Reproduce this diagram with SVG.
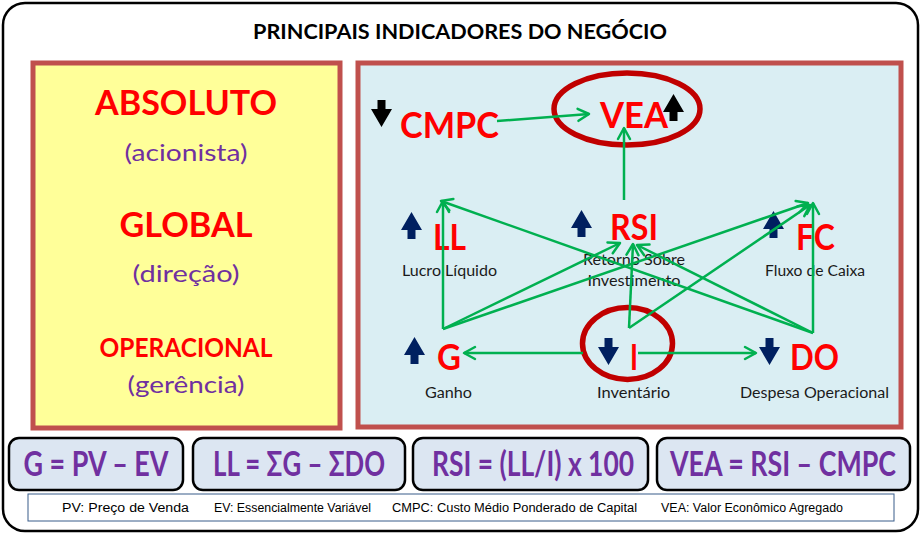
<svg xmlns="http://www.w3.org/2000/svg" xmlns:xlink="http://www.w3.org/1999/xlink" width="921" height="535" viewBox="0 0 921 535">
<style>
.ttl{font-family:Lato,"Open Sans","Liberation Sans",sans-serif;font-weight:bold;font-size:21px;fill:#000}
.big{font-family:Lato,"Open Sans","Liberation Sans",sans-serif;font-weight:bold;fill:#FF0000}
.sub{font-family:Lato,"Open Sans","Liberation Sans",sans-serif;font-size:23px;fill:#7030A0}
.node{font-family:Lato,"Open Sans","Liberation Sans",sans-serif;font-weight:bold;font-size:37px;fill:#FF0000}
.lbl{font-family:Lato,"Open Sans","Liberation Sans",sans-serif;font-size:14.5px;fill:#1a1a1a}
.frm{font-family:Lato,"Open Sans","Liberation Sans",sans-serif;font-weight:bold;font-size:28px;fill:#7030A0}
.ft{font-family:"Liberation Sans",Arial,sans-serif;font-size:12.5px;fill:#000}
.fbox{fill:#DCE6F2;stroke:#000;stroke-width:2.5}
.panel{stroke:#C0504D;stroke-width:5}
.ring{fill:none;stroke:#C00000;stroke-width:5.5}
.con{stroke:#00B050;stroke-width:2.5;fill:none}
.navy{fill:#002060}
.blk{fill:#000}
</style>
<defs>
<path id="up" d="M10.5,0 L21,18 L14.5,18 L14.5,27 L6.5,27 L6.5,18 L0,18 Z"/>
<marker id="ah" markerUnits="userSpaceOnUse" markerWidth="16" markerHeight="16" viewBox="0 0 16 16" refX="13" refY="8" orient="auto">
<path d="M2,2 L13,8 L2,14" fill="none" stroke="#00B050" stroke-width="2.5" stroke-linecap="round" stroke-linejoin="round"/>
</marker>
</defs>

<rect id="frame" x="3" y="3" width="915" height="528" rx="22" fill="#fff" stroke="#000" stroke-width="2.5"/>

<g id="title"><text class="ttl" x="460" y="39" text-anchor="middle" textLength="414" lengthAdjust="spacingAndGlyphs">PRINCIPAIS INDICADORES DO NEGÓCIO</text></g>

<g id="left-panel">
<rect class="panel" x="33" y="63" width="307" height="365" fill="#FFFF99"/>
<text class="big" x="186" y="115" font-size="35" text-anchor="middle" textLength="182" lengthAdjust="spacingAndGlyphs">ABSOLUTO</text>
<text class="sub" x="186" y="161" text-anchor="middle" textLength="123" lengthAdjust="spacingAndGlyphs">(acionista)</text>
<text class="big" x="186" y="237" font-size="34" text-anchor="middle" textLength="133" lengthAdjust="spacingAndGlyphs">GLOBAL</text>
<text class="sub" x="186" y="282" text-anchor="middle" textLength="107" lengthAdjust="spacingAndGlyphs">(direção)</text>
<text class="big" x="186" y="357" font-size="26" text-anchor="middle" textLength="173" lengthAdjust="spacingAndGlyphs">OPERACIONAL</text>
<text class="sub" x="186" y="393" text-anchor="middle" textLength="117" lengthAdjust="spacingAndGlyphs">(gerência)</text>
</g>

<g id="right-panel">
<rect class="panel" x="358" y="63" width="543" height="364" fill="#DAEEF3"/>
</g>

<g id="node-CMPC">
<use xlink:href="#up" class="blk" transform="translate(392,127) rotate(180)"/>
<text class="node" x="400" y="138" textLength="99" lengthAdjust="spacingAndGlyphs">CMPC</text>
</g>
<g id="node-VEA">
<ellipse class="ring" cx="627" cy="109" rx="73" ry="36"/>
<text class="node" x="600" y="128" textLength="68" lengthAdjust="spacingAndGlyphs">VEA</text>
<use xlink:href="#up" class="blk" transform="translate(663,94)"/>
</g>
<g id="node-LL">
<use xlink:href="#up" class="navy" transform="translate(401,212)"/>
<text class="node" x="433" y="250" textLength="33" lengthAdjust="spacingAndGlyphs">LL</text>
<text class="lbl" x="402" y="276" textLength="95" lengthAdjust="spacingAndGlyphs">Lucro Líquido</text>
</g>
<g id="node-RSI">
<use xlink:href="#up" class="navy" transform="translate(571,210)"/>
<text class="node" x="610" y="240" textLength="48" lengthAdjust="spacingAndGlyphs">RSI</text>
<text class="lbl" x="634" y="265" text-anchor="middle" textLength="102" lengthAdjust="spacingAndGlyphs">Retorno Sobre</text>
<text class="lbl" x="634" y="286" text-anchor="middle" textLength="93" lengthAdjust="spacingAndGlyphs">Investimento</text>
</g>
<g id="node-FC">
<use xlink:href="#up" class="navy" transform="translate(763,211)"/>
<text class="node" x="796" y="250" textLength="39" lengthAdjust="spacingAndGlyphs">FC</text>
<text class="lbl" x="765" y="276" textLength="100" lengthAdjust="spacingAndGlyphs">Fluxo de Caixa</text>
</g>
<g id="node-G">
<use xlink:href="#up" class="navy" transform="translate(404,337)"/>
<text class="node" x="437" y="370" textLength="24" lengthAdjust="spacingAndGlyphs">G</text>
<text class="lbl" x="425" y="398" textLength="47" lengthAdjust="spacingAndGlyphs">Ganho</text>
</g>
<g id="node-I">
<ellipse class="ring" cx="627.5" cy="343.5" rx="45" ry="36"/>
<use xlink:href="#up" class="navy" transform="translate(619,365) rotate(180)"/>
<text class="node" x="630" y="370" textLength="8" lengthAdjust="spacingAndGlyphs">I</text>
<text class="lbl" x="597" y="398" textLength="73" lengthAdjust="spacingAndGlyphs">Inventário</text>
</g>
<g id="node-DO">
<use xlink:href="#up" class="navy" transform="translate(780,365) rotate(180)"/>
<text class="node" x="790" y="370" textLength="49" lengthAdjust="spacingAndGlyphs">DO</text>
<text class="lbl" x="740" y="398" textLength="149" lengthAdjust="spacingAndGlyphs">Despesa Operacional</text>
</g>

<g id="connectors">
<line class="con" x1="497" y1="121" x2="589" y2="114" marker-end="url(#ah)"/>
<line class="con" x1="624" y1="200" x2="624" y2="128" marker-end="url(#ah)"/>
<line class="con" x1="443" y1="329" x2="443" y2="201" marker-end="url(#ah)"/>
<line class="con" x1="443" y1="329" x2="620" y2="243" marker-end="url(#ah)"/>
<line class="con" x1="443" y1="329" x2="808" y2="203" marker-end="url(#ah)"/>
<line class="con" x1="629" y1="328" x2="633" y2="244" marker-end="url(#ah)"/>
<line class="con" x1="629" y1="328" x2="810" y2="205" marker-end="url(#ah)"/>
<line class="con" x1="813" y1="333" x2="813" y2="203" marker-end="url(#ah)"/>
<line class="con" x1="813" y1="333" x2="637" y2="245" marker-end="url(#ah)"/>
<line class="con" x1="813" y1="333" x2="441" y2="201" marker-end="url(#ah)"/>
<line class="con" x1="583" y1="353" x2="464" y2="353" marker-end="url(#ah)"/>
<line class="con" x1="638" y1="353" x2="756" y2="353" marker-end="url(#ah)"/>
</g>

<g id="formulas">
<g id="f-G"><rect class="fbox" x="9" y="438" width="174" height="52" rx="10"/>
<text class="frm" transform="translate(96,476) scale(1,1.25)" x="0" y="0" text-anchor="middle" textLength="145" lengthAdjust="spacingAndGlyphs">G = PV – EV</text></g>
<g id="f-LL"><rect class="fbox" x="193" y="438" width="212" height="52" rx="10"/>
<text class="frm" transform="translate(299,476) scale(1,1.25)" x="0" y="0" text-anchor="middle" textLength="172" lengthAdjust="spacingAndGlyphs">LL = ΣG – ΣDO</text></g>
<g id="f-RSI"><rect class="fbox" x="413" y="438" width="235" height="52" rx="10"/>
<text class="frm" transform="translate(533,476) scale(1,1.25)" x="0" y="0" text-anchor="middle" textLength="202" lengthAdjust="spacingAndGlyphs">RSI = (LL/I) x 100</text></g>
<g id="f-VEA"><rect class="fbox" x="657" y="438" width="253" height="52" rx="10"/>
<text class="frm" transform="translate(783,476) scale(1,1.25)" x="0" y="0" text-anchor="middle" textLength="226" lengthAdjust="spacingAndGlyphs">VEA = RSI – CMPC</text></g>
</g>

<g id="legend">
<rect x="28" y="494" width="866" height="27" fill="#fff" stroke="#385D8A" stroke-width="1"/>
<text class="ft" x="62" y="512" textLength="127" lengthAdjust="spacingAndGlyphs">PV: Preço de Venda</text>
<text class="ft" x="214" y="512" textLength="157" lengthAdjust="spacingAndGlyphs">EV: Essencialmente  Variável</text>
<text class="ft" x="392" y="512" textLength="245" lengthAdjust="spacingAndGlyphs">CMPC: Custo Médio Ponderado de Capital</text>
<text class="ft" x="661" y="512" textLength="182" lengthAdjust="spacingAndGlyphs">VEA: Valor Econômico Agregado</text>
</g>
</svg>
